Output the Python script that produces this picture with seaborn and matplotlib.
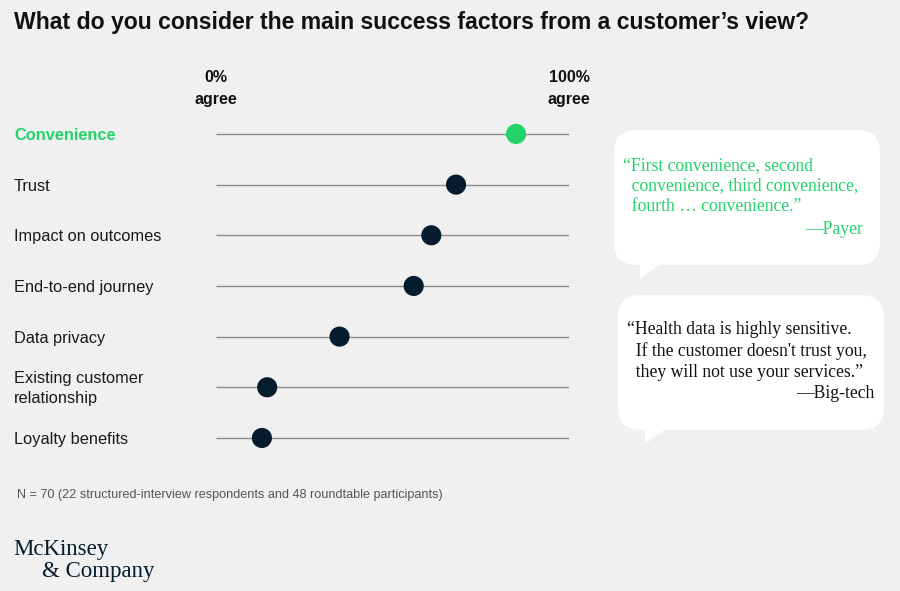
import matplotlib
matplotlib.use("Agg")
import matplotlib.pyplot as plt
import seaborn as sns
import pandas as pd
from matplotlib.patches import FancyBboxPatch, Polygon

categories = ["Convenience", "Trust", "Impact on outcomes", "End-to-end journey",
              "Data privacy", "Existing customer\nrelationship", "Loyalty benefits"]
agree_pct = [85, 68, 61, 56, 35, 14.5, 13]
highlight = [True, False, False, False, False, False, False]

BG = "#f0f0f0"
GREEN = "#22d36a"
NAVY = "#051c2c"

sns.set_theme(style="white")
plt.rcParams["font.family"] = ["Liberation Sans", "DejaVu Sans"]

df = pd.DataFrame({"cat": categories, "pct": agree_pct,
                   "group": ["hi" if h else "lo" for h in highlight]})
df["row"] = range(len(df))

fig = plt.figure(figsize=(9, 5.91), dpi=100, facecolor=BG)
ax = fig.add_axes([216/900, 1 - 463.3/591, 353/900, 354.7/591])
ax.set_facecolor("none")

ax.hlines(df["row"], 0, 100, color="#8a8d90", lw=1.0, zorder=1)
sns.scatterplot(data=df, x="pct", y="row", hue="group",
                palette={"hi": GREEN, "lo": NAVY}, s=210, edgecolor="none",
                legend=False, ax=ax, zorder=3, clip_on=False)
ax.set_xlim(0, 100)
ax.set_ylim(6.5, -0.5)
ax.axis("off")

trans = matplotlib.transforms.blended_transform_factory(fig.transFigure, ax.transData)
for i, (c, h) in enumerate(zip(categories, highlight)):
    ax.text(14/900, i + 0.03, c, transform=trans, ha="left", va="center",
            fontsize=11.8, color=GREEN if h else "#1a1a1a",
            fontweight="bold" if h else "normal", linespacing=1.42)

# header labels
for xv, t in [(0, "0%\nagree"), (100, "100%\nagree")]:
    ax.text(xv, -0.9, t, ha="center", va="center", fontsize=11.5, fontweight="bold",
            color="#111111", linespacing=1.6)

# title
fig.text(14/900, 1 - 22/591, "What do you consider the main success factors from a customer\u2019s view?",
         ha="left", va="center", fontsize=16.6, fontweight="bold", color="#111111")

# speech bubbles
def bubble(x0, y0, x1, y1, tx):
    W, H = 900, 591
    p = FancyBboxPatch((x0/W, 1 - y1/H), (x1-x0)/W, (y1-y0)/H,
                       boxstyle="round,pad=0,rounding_size=0.025",
                       transform=fig.transFigure, facecolor="white", edgecolor="none",
                       mutation_aspect=900/591)
    fig.patches.append(p)
    tri = Polygon([(tx/W, 1 - (y1-2)/H), ((tx+22)/W, 1 - (y1-2)/H), (tx/W, 1 - (y1+14)/H)],
                  closed=True, transform=fig.transFigure, facecolor="white", edgecolor="none")
    fig.patches.append(tri)

bubble(614, 130, 880, 265, 640)
bubble(618, 295, 884, 430, 645)

serif = ["Liberation Serif", "DejaVu Serif"]
fig.text(623/900, 1 - 186/591,
         "\u201cFirst convenience, second\n  convenience, third convenience,\n  fourth \u2026 convenience.\u201d",
         ha="left", va="center", fontsize=12.7, color=GREEN, family=serif, linespacing=1.28)
fig.text(863/900, 1 - 229/591, "\u2014Payer", ha="right", va="center", fontsize=12.7,
         color=GREEN, family=serif)
fig.text(627/900, 1 - 351/591,
         "\u201cHealth data is highly sensitive.\n  If the customer doesn't trust you,\n  they will not use your services.\u201d",
         ha="left", va="center", fontsize=12.7, color="#111111", family=serif, linespacing=1.3)
fig.text(874/900, 1 - 393/591, "\u2014Big-tech", ha="right", va="center", fontsize=12.7,
         color="#111111", family=serif)

fig.text(17/900, 1 - 495/591,
         "N = 70 (22 structured-interview respondents and 48 roundtable participants)",
         ha="left", va="center", fontsize=9.1, color="#555555")

fig.text(13/900, 1 - 549/591, "McKinsey", ha="left", va="center", fontsize=16.5,
         color=NAVY, family=serif)
fig.text(42/900, 1 - 571/591, "& Company", ha="left", va="center", fontsize=16.5,
         color=NAVY, family=serif)

fig.savefig("out.png", dpi=100, facecolor=BG)
